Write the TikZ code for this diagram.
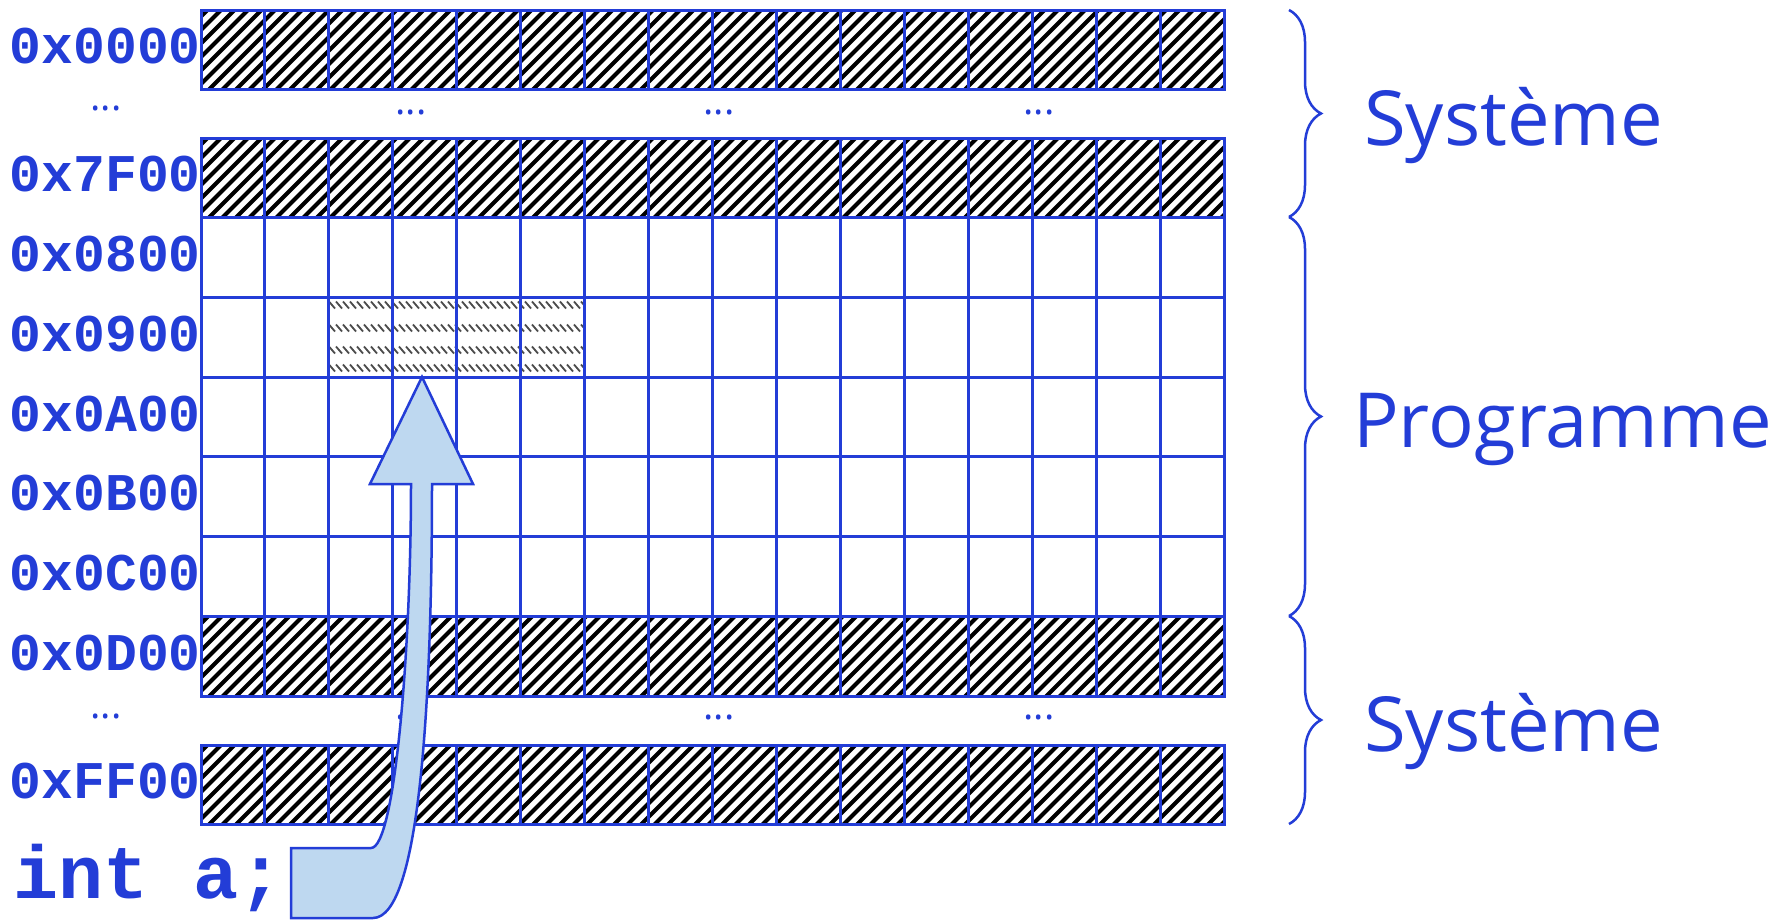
\documentclass[tikz,border=0pt]{standalone}
\usepackage{fontspec}
\setmainfont{Open Sans}
\setmonofont{Liberation Mono}
\usetikzlibrary{decorations.pathreplacing}
\definecolor{ublue}{RGB}{35,61,215}
\definecolor{afill}{RGB}{190,216,240}
\begin{document}
\begin{tikzpicture}[x=1pt,y=-1pt,
  memgrid/.style={draw=ublue,line width=3pt,line cap=rect},
  addr/.style={anchor=base east,inner sep=0pt,text=ublue,font=\fontsize{53}{60}\selectfont\ttfamily\bfseries},
  zonelabel/.style={anchor=base west,inner sep=0pt,text=ublue,font=\fontsize{76}{90}\selectfont},
  dotlabel/.style={anchor=base,inner sep=0pt,text=ublue,font=\fontsize{39}{45}\selectfont},
  bracestyle/.style={draw=ublue,line width=2.5pt,decorate,decoration={brace,amplitude=32pt}},
  hatchline/.style={line width=4.2pt,black},
  greydash/.style={line width=1.8pt,black!70},
  arrowshape/.style={draw=ublue,fill=afill,line width=2.5pt,line join=miter},
  ]
\fill[white] (0,0) rectangle (1789,919);
\useasboundingbox (0,0) rectangle (1789,919);

% hatched (system) rows
\foreach \t/\b in {10/89, 138/217, 616/696, 745/824} {
  \begin{scope}
    \clip (201,\t) rectangle (1224,\b);
    \foreach \i in {0,...,82} \draw[hatchline] ({110+\i*13.5},\b+5) -- ++(95,-95);
  \end{scope}
}

% variable a (4 bytes)
\begin{scope}
  \clip (329,297) rectangle (585,377);
  \foreach \yy in {305,328,350,368}
    \foreach \i in {0,...,37} \draw[greydash] ({329+\i*7},\yy-3.5) -- ++(6,7);
\end{scope}

% grid
\foreach \i in {0,...,16} {
  \pgfmathsetmacro\xx{201+\i*63.94}
  \draw[memgrid] (\xx,10) -- (\xx,89);
  \draw[memgrid] (\xx,138) -- (\xx,696);
  \draw[memgrid] (\xx,745) -- (\xx,824);
}
\foreach \yy in {10,89,138,217,297,377,456,536,616,696,745,824}
  \draw[memgrid] (201,\yy) -- (1224,\yy);

% addresses
\node[addr] (a0000) at (201,63) {0x0000};
\node[addr] (a7F00) at (201,191) {0x7F00};
\node[addr] (a0800) at (201,271) {0x0800};
\node[addr] (a0900) at (201,351) {0x0900};
\node[addr] (a0A00) at (201,431) {0x0A00};
\node[addr] (a0B00) at (201,510) {0x0B00};
\node[addr] (a0C00) at (201,590) {0x0C00};
\node[addr] (a0D00) at (201,670) {0x0D00};
\node[addr] (aFF00) at (201,798) {0xFF00};

% dots
\node[dotlabel] (d1) at (106,110.5) {...};
\node[dotlabel] (d2) at (411,114.5) {...};
\node[dotlabel] (d3) at (719,114.5) {...};
\node[dotlabel] (d4) at (1039,114.5) {...};
\node[dotlabel] (d5) at (106,718.5) {...};
\node[dotlabel] (d6) at (411,719.5) {...};
\node[dotlabel] (d7) at (719,719.5) {...};
\node[dotlabel] (d8) at (1039,719.5) {...};

% braces and zone names
\draw[bracestyle] (1289,10) -- (1289,217);
\draw[bracestyle] (1289,217) -- (1289,616);
\draw[bracestyle] (1289,616) -- (1289,824);
\node[zonelabel] (sys1) at (1364,145) {Système};
\node[zonelabel] (prog) at (1353,447) {Programme};
\node[zonelabel] (sys2) at (1364,751) {Système};

% declaration and arrow
\node[anchor=base west,inner sep=0pt,text=ublue,font=\fontsize{75}{80}\selectfont\ttfamily\bfseries] (decl) at (13,898) {int a;};
\coordinate (tip) at (422,377);
\draw[arrowshape] (tip) -- (473,484) -- (432,484)
  .. controls (432,700) and (420,918) .. (373,918)
  -- (291,918) -- (291,848) -- (371,848)
  .. controls (395,848) and (411,650) .. (411,484)
  -- (370,484) -- cycle;
\end{tikzpicture}
\end{document}
